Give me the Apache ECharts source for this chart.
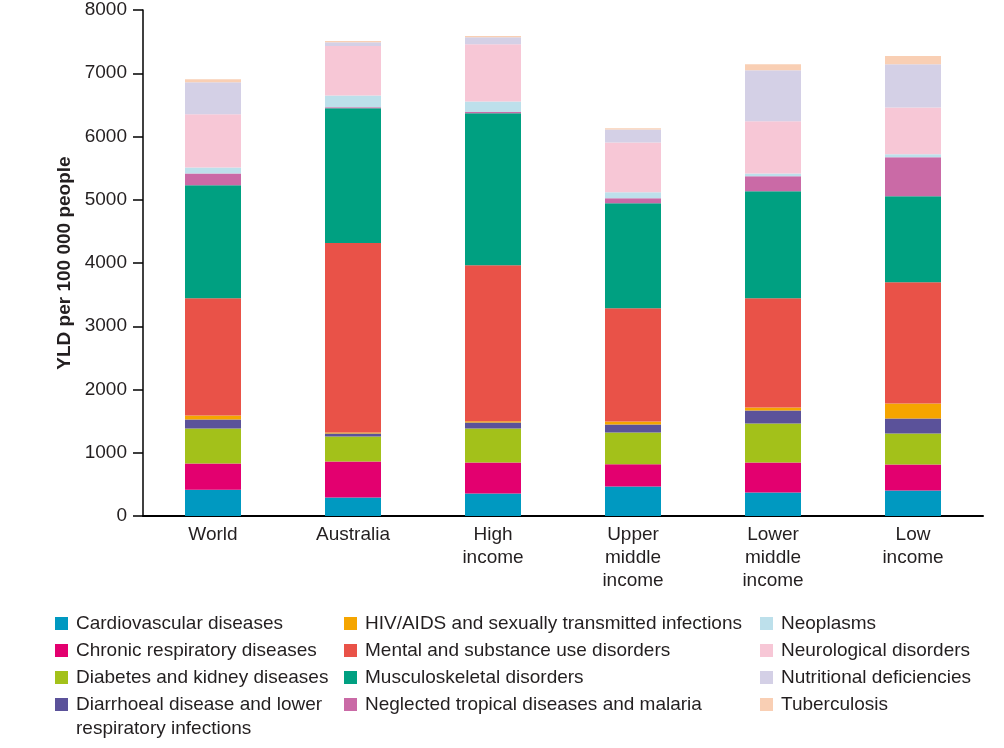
<!DOCTYPE html>
<html>
<head>
<meta charset="utf-8">
<script src="https://cdn.jsdelivr.net/npm/echarts@6/dist/echarts.min.js"></script>
<style>
  html, body { margin: 0; padding: 0; background: #fff; }
  #main { width: 1004px; height: 748px; }
</style>
</head>
<body>
<div id="main"></div>
<script>
// categories along the x axis
var regions = ['World', 'Australia', 'High\nincome', 'Upper\nmiddle\nincome', 'Lower\nmiddle\nincome', 'Low\nincome'];

// YLD per 100 000 people, one array per cause (World .. Low income)
var cardiovascular = [415, 293, 356, 467, 372, 403];
var chronicResp    = [416, 569, 490, 353, 475, 412];
var diabetesKidney = [553, 396, 538, 501, 617, 490];
var diarrhoeal     = [143, 47, 95, 127, 205, 238];
var hivAids        = [63, 16, 21, 47, 48, 237];
var mentalHealth   = [1851, 2995, 2464, 1788, 1724, 1915];
var musculo        = [1788, 2132, 2405, 1662, 1693, 1360];
var tropical       = [186, 16, 20, 79, 238, 617];
var neoplasms      = [94, 185, 165, 95, 43, 48];
var neurological   = [844, 780, 906, 786, 827, 739];
var nutritional    = [506, 63, 111, 206, 807, 685];
var tuberculosis   = [48, 16, 16, 20, 95, 127];

var causes = [
  ['Cardiovascular diseases', cardiovascular, '#0099c1'],
  ['Chronic respiratory diseases', chronicResp, '#e3006f'],
  ['Diabetes and kidney diseases', diabetesKidney, '#a3c11a'],
  ['Diarrhoeal disease and lower respiratory infections', diarrhoeal, '#5b529a'],
  ['HIV/AIDS and sexually transmitted infections', hivAids, '#f5a500'],
  ['Mental and substance use disorders', mentalHealth, '#e95248'],
  ['Musculoskeletal disorders', musculo, '#00a081'],
  ['Neglected tropical diseases and malaria', tropical, '#ca6aa6'],
  ['Neoplasms', neoplasms, '#bde0eb'],
  ['Neurological disorders', neurological, '#f7c7d6'],
  ['Nutritional deficiencies', nutritional, '#d4d0e6'],
  ['Tuberculosis', tuberculosis, '#f9cfb4']
];

var txt = '#231f20';
var fontFam = '"Liberation Sans", Arial, Helvetica, sans-serif';

var myChart = echarts.init(document.getElementById('main'));

// the long diarrhoeal name wraps; its second line is drawn below the legend row
// so the colour square stays level with the first line, as in the original
function legendCol(left, names) {
  return {
    orient: 'vertical',
    left: left,
    top: 607,
    height: 260,
    itemWidth: 13,
    itemHeight: 13,
    itemGap: 4,
    icon: 'rect',
    selectedMode: false,
    data: names,
    formatter: function (n) {
      return n === 'Diarrhoeal disease and lower respiratory infections'
        ? 'Diarrhoeal disease and lower' : n;
    },
    textStyle: { color: txt, fontSize: 19, fontFamily: fontFam, lineHeight: 23, padding: [0, 0, 0, 3] }
  };
}

var names = causes.map(function (c) { return c[0]; });

var option = {
  animation: false,
  textStyle: { fontFamily: fontFam },
  grid: { left: 143, right: 21, top: 10, bottom: 232 },
  legend: [
    legendCol(50, names.slice(0, 4)),
    legendCol(339, names.slice(4, 8)),
    legendCol(755, names.slice(8, 12))
  ],
  graphic: [{
    type: 'text',
    left: 76,
    top: 719,
    style: { text: 'respiratory infections', fill: txt, fontSize: 19, fontFamily: fontFam }
  }],
  xAxis: {
    type: 'category',
    data: regions,
    axisLine: { lineStyle: { color: '#000', width: 2 } },
    axisTick: { length: 8, lineStyle: { color: '#000', width: 1.5 } },
    axisLabel: { color: txt, fontSize: 19, lineHeight: 23, margin: 7, interval: 0 }
  },
  yAxis: {
    type: 'value',
    min: 0,
    max: 8000,
    interval: 1000,
    name: 'YLD per 100 000 people',
    nameLocation: 'middle',
    nameGap: 62,
    nameTextStyle: { color: txt, fontSize: 19, fontWeight: 'bold' },
    axisLine: { show: true, lineStyle: { color: '#000', width: 1.5 } },
    axisTick: { show: true, length: 10, lineStyle: { color: '#000', width: 1.5 } },
    splitLine: { show: false },
    axisLabel: {
      color: txt, fontSize: 19, margin: 16,
      formatter: function (v) { return String(v); }
    }
  },
  series: causes.map(function (c) {
    return {
      name: c[0],
      type: 'bar',
      stack: 'total',
      barWidth: 56,
      data: c[1],
      itemStyle: { color: c[2] }
    };
  })
};

myChart.setOption(option);
</script>
</body>
</html>
